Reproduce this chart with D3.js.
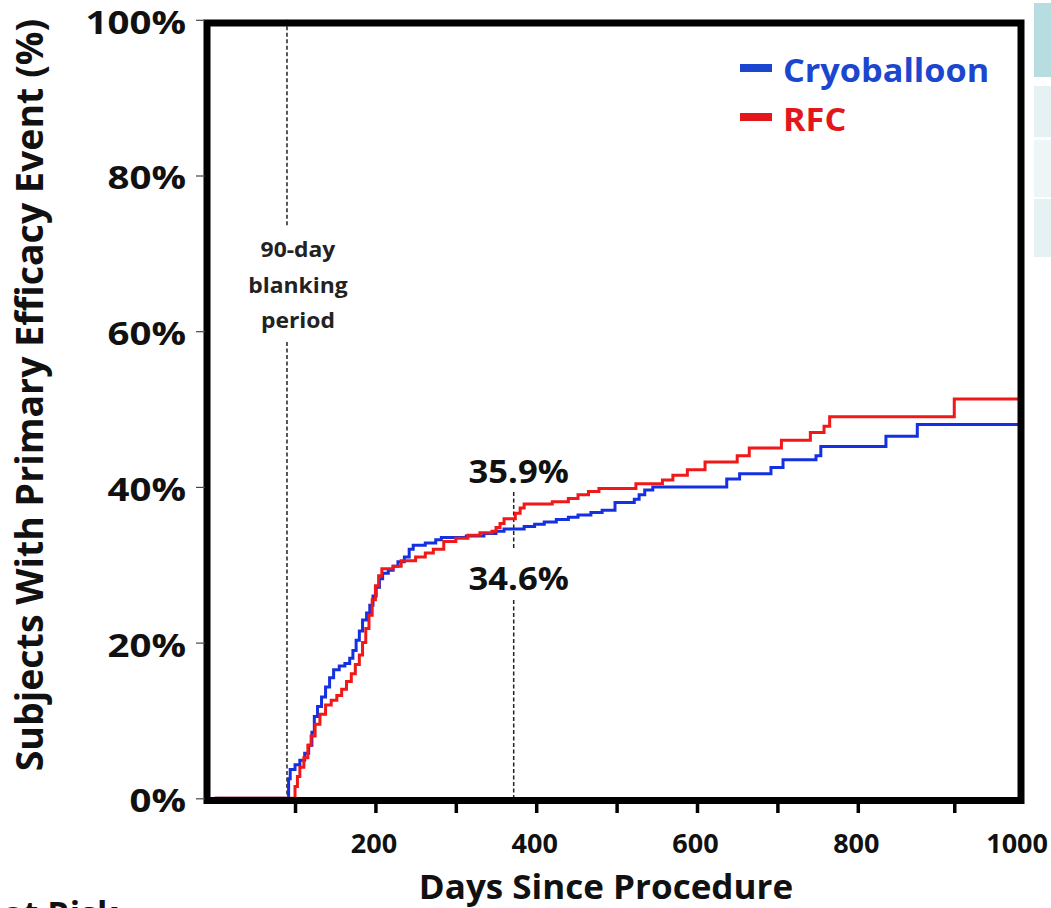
<!DOCTYPE html>
<html>
<head>
<meta charset="utf-8">
<script src="https://cdn.jsdelivr.net/npm/d3@7"></script>
<style>
  html, body { margin: 0; padding: 0; background: #fff; }
  svg { display: block; font-family: "Open Sans", "Noto Sans", sans-serif; font-weight: 700; }
</style>
</head>
<body>
<svg id="chart" width="1051" height="908"></svg>
<script>
// Kaplan-Meier cumulative incidence of the primary efficacy event, [day, percent]
const cryoballoon = [
  [0,0],[90,0],[92,2.5],[94,3.7],[100,4.3],[106,4.9],[112,5.8],[117,6.8],[121,8.5],[124,10.5],
  [128,11.8],[133,13.0],[138,14.3],[143,15.5],[148,16.5],[155,17.0],[162,17.3],[168,18.0],
  [172,19.0],[176,20.3],[180,21.5],[184,22.9],[189,23.8],[193,24.8],[197,26.0],[201,27.1],
  [205,28.2],[209,28.9],[216,29.3],[222,29.8],[228,30.4],[236,31.0],[242,32.0],[247,32.5],
  [262,32.8],[275,33.2],[282,33.5],[313,33.7],[335,34.0],[350,34.3],[360,34.6],[385,34.9],
  [398,35.2],[410,35.5],[425,35.8],[440,36.1],[452,36.4],[468,36.7],[482,37.0],[498,38.0],
  [522,38.4],[528,39.0],[535,39.6],[545,40.0],[637,41.0],[653,41.7],[692,42.5],[707,43.5],
  [748,44.0],[754,45.2],[835,46.5],[874,48.0],[1003,48.0]
];
const rfc = [
  [0,0],[97,0],[100,1.5],[103,2.8],[106,4.0],[111,5.2],[116,6.8],[120,8.0],[125,9.5],
  [131,10.8],[138,12.0],[145,12.6],[152,13.2],[158,14.0],[164,15.0],[170,16.0],[175,17.2],
  [180,18.4],[184,20.0],[188,21.8],[192,23.5],[196,25.5],[200,27.3],[204,28.6],[208,29.5],
  [222,29.8],[232,30.5],[250,31.0],[262,31.5],[272,32.0],[285,33.0],[300,33.4],[315,33.8],
  [330,34.1],[345,34.3],[350,34.8],[355,35.3],[360,35.9],[374,36.6],[380,37.3],[385,37.8],
  [420,38.1],[440,38.5],[452,39.0],[465,39.4],[478,39.8],[524,40.4],[557,40.9],[570,41.5],
  [588,42.2],[610,43.2],[650,44.0],[665,45.0],[705,46.0],[741,47.0],[758,47.8],[765,49.0],
  [920,51.3],[1003,51.3]
];

const seriesNames = ["Cryoballoon", "RFC"];
const xTickDays = [100, 200, 300, 400, 500, 600, 700, 800, 920];
const xLabelDays = [200, 400, 600, 800, 1000];
const yTickPct = [0, 20, 40, 60, 80, 100];
const blankingDay = 90;
const blankingLabel = ["90-day", "blanking", "period"];
const markerDay = 372;
const markerRfc = 35.9;
const markerCryo = 34.6;

const svg = d3.select("#chart");
const BLUE = "#1530e0", RED = "#f01818";
const BLUE_TXT = "#1b46d0", RED_TXT = "#e3161b";
const FONT = "'Open Sans', 'Noto Sans', sans-serif";

// widen glyphs horizontally by factor k, keeping the anchor
function stretch(sel, k) {
  sel.each(function () {
    const w = this.getComputedTextLength();
    this.setAttribute("textLength", (w * k).toFixed(1));
    this.setAttribute("lengthAdjust", "spacingAndGlyphs");
  });
}

const x = d3.scaleLinear().domain([-7, 1003]).range([209, 1021]);
const y = d3.scaleLinear().domain([0, 100]).range([798.3, 19.8]);

// table fragments at the right edge
const boxes = [[3, 74, "#b8dde1"], [86, 51, "#e5f1f3"], [140, 57, "#edf5f7"], [199, 58, "#e5f1f3"]];
svg.selectAll("rect.side").data(boxes).join("rect")
  .attr("class", "side").attr("x", 1034).attr("width", 20)
  .attr("y", d => d[0]).attr("height", d => d[1]).attr("fill", d => d[2]);

// clip for curves
svg.append("clipPath").attr("id", "plotclip").append("rect")
  .attr("x", 207).attr("y", 20).attr("width", 814).attr("height", 781);

// dashed reference lines
const dashG = svg.append("g").attr("stroke", "#222").attr("stroke-width", 1.5)
  .attr("stroke-dasharray", "4,2.5");
dashG.append("line").attr("x1", x(blankingDay)).attr("x2", x(blankingDay))
  .attr("y1", y(100)).attr("y2", 226);
dashG.append("line").attr("x1", x(blankingDay)).attr("x2", x(blankingDay))
  .attr("y1", 342).attr("y2", y(0));
dashG.append("line").attr("x1", x(markerDay)).attr("x2", x(markerDay))
  .attr("y1", 492).attr("y2", 548);
dashG.append("line").attr("x1", x(markerDay)).attr("x2", x(markerDay))
  .attr("y1", 600).attr("y2", y(0));

// step curves
const line = d3.line().x(d => x(d[0])).y(d => y(d[1])).curve(d3.curveStepAfter);
const curves = svg.append("g").attr("clip-path", "url(#plotclip)");
[[cryoballoon, BLUE], [rfc, RED]].forEach(([data, col]) => {
  curves.append("path").datum(data).attr("d", line)
    .attr("fill", "none").attr("stroke", col).attr("stroke-width", 3)
    .attr("stroke-linejoin", "miter");
});

// frame
svg.append("rect").attr("x", 207).attr("y", 23).attr("width", 814).attr("height", 777.5)
  .attr("fill", "none").attr("stroke", "#000").attr("stroke-width", 7);

// x ticks
const xTicks = svg.append("g").attr("transform", "translate(0,803)")
  .call(d3.axisBottom(x).tickValues(xTickDays).tickFormat("").tickSize(10));
xTicks.select(".domain").remove();
xTicks.selectAll("line").attr("stroke", "#000").attr("stroke-width", 3.5);

// x labels
const xLabels = svg.append("g").attr("transform", "translate(-2,853)")
  .call(d3.axisBottom(x).tickValues(xLabelDays).tickFormat(d3.format("d")).tickSize(0).tickPadding(0));
xLabels.select(".domain").remove();
xLabels.selectAll("text").attr("dy", 0).attr("fill", "#111")
  .style("font-size", "27px").style("font-family", FONT).style("font-weight", 700);

// y axis
const yAxis = svg.append("g").attr("transform", "translate(205,0)")
  .call(d3.axisLeft(y).tickValues(yTickPct).tickFormat(d => d + "%").tickSize(9).tickPadding(10));
yAxis.select(".domain").remove();
yAxis.selectAll("line").attr("stroke", "#444").attr("stroke-width", 1.2);
yAxis.selectAll("text").attr("dy", "0.42em").attr("fill", "#111")
  .style("font-size", "32px").style("font-family", FONT).style("font-weight", 700)
  .call(stretch, 1.2);

// axis titles
svg.append("text").attr("x", 606).attr("y", 899).attr("text-anchor", "middle")
  .attr("fill", "#111").style("font-size", "34px").text("Days Since Procedure")
  .call(stretch, 1.03);
svg.append("text").attr("transform", "translate(43,395) rotate(-90)").attr("text-anchor", "middle")
  .attr("fill", "#111").style("font-size", "37.5px").text("Subjects With Primary Efficacy Event (%)");

// blanking period note
svg.append("g").selectAll("text").data(blankingLabel).join("text")
  .attr("x", x(blankingDay) + 11).attr("y", (d, i) => 257 + i * 35.5)
  .attr("text-anchor", "middle").attr("fill", "#222").style("font-size", "22px").text(d => d)
  .call(stretch, 1.04);

// marker values
svg.append("text").attr("x", x(markerDay) + 5).attr("y", 483).attr("text-anchor", "middle")
  .attr("fill", "#111").style("font-size", "32px").text(markerRfc.toFixed(1) + "%")
  .call(stretch, 1.08);
svg.append("text").attr("x", x(markerDay) + 5).attr("y", 590).attr("text-anchor", "middle")
  .attr("fill", "#111").style("font-size", "32px").text(markerCryo.toFixed(1) + "%")
  .call(stretch, 1.08);

// legend
const legend = svg.append("g");
[[seriesNames[0], BLUE_TXT, 68], [seriesNames[1], RED_TXT, 117]].forEach(([name, col, cy]) => {
  legend.append("rect").attr("x", 740).attr("y", cy - 4).attr("width", 32).attr("height", 8).attr("fill", col);
  legend.append("text").attr("x", 783).attr("y", cy + 14).attr("fill", col)
    .style("font-size", "32px").text(name).call(stretch, 1.07);
});

// number-at-risk heading, cut at the bottom edge
svg.append("text").attr("x", 118).attr("y", 926).attr("text-anchor", "end")
  .attr("fill", "#111").style("font-size", "34px").text("Number at Risk");
</script>
</body>
</html>
